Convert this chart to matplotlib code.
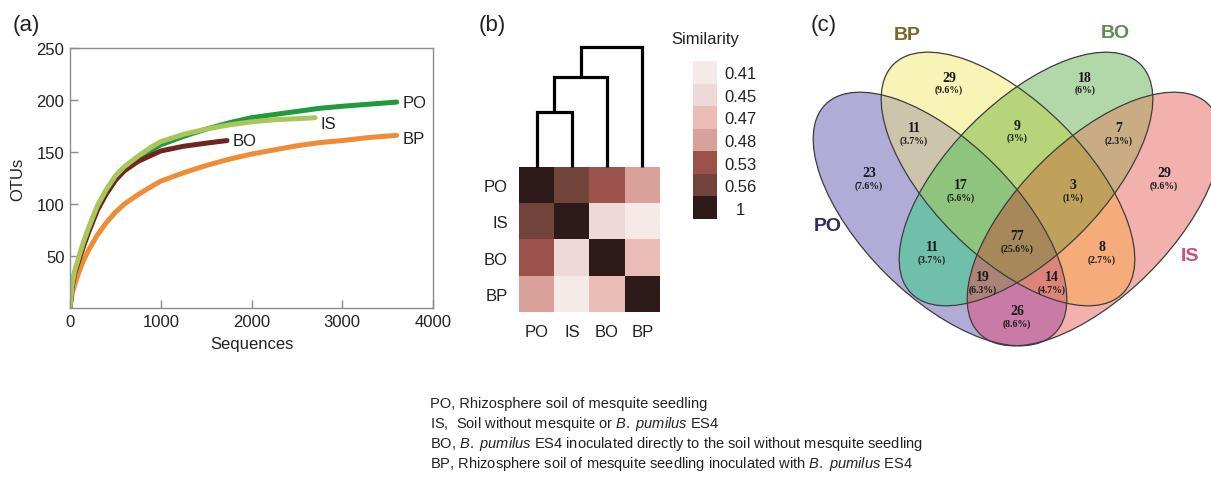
import matplotlib.pyplot as plt
import numpy as np
from matplotlib.colors import ListedColormap, to_rgba
from matplotlib.patches import Ellipse

plt.rcParams['font.family'] = ['Liberation Sans', 'DejaVu Sans']
plt.rcParams['mathtext.fontset'] = 'custom'
plt.rcParams['mathtext.rm'] = 'Liberation Sans'
plt.rcParams['mathtext.it'] = 'Liberation Sans:italic'

W, H = 1211, 481

# (a) rarefaction curves
po_x = [0, 25, 50, 100, 150, 200, 300, 400, 500, 600, 750, 900, 1000, 1250,
        1500, 1750, 2000, 2250, 2500, 2750, 3000, 3300, 3600]
po_y = [0, 22, 33, 47, 60, 72, 94, 110, 123, 133, 143, 152, 157, 165,
        172, 178, 183, 186, 189, 192, 194, 196, 198]
is_x = [0, 25, 50, 100, 150, 200, 300, 400, 500, 600, 750, 900, 1000, 1250,
        1500, 1750, 2000, 2250, 2500, 2700]
is_y = [0, 24, 35, 50, 64, 76, 98, 114, 127, 136, 146, 155, 160, 167,
        172, 176, 179, 181, 182, 183]
bo_x = [0, 25, 50, 100, 150, 200, 300, 400, 500, 600, 750, 900, 1000, 1250,
        1500, 1730]
bo_y = [0, 22, 33, 47, 60, 72, 94, 110, 123, 132, 141, 147, 151, 155.5,
        158.5, 161]
bp_x = [0, 25, 50, 100, 150, 200, 300, 400, 500, 600, 750, 900, 1000, 1250,
        1500, 1750, 2000, 2250, 2500, 2750, 3000, 3300, 3600]
bp_y = [0, 14, 22, 35, 46, 55, 70, 82, 92, 100, 109, 117, 122, 130,
        137, 143, 148, 152, 156, 159, 161, 164, 166]

# (b) similarity heatmap
samples = ['PO', 'IS', 'BO', 'BP']
similarity = [[1, 0.56, 0.53, 0.48],
              [0.56, 1, 0.45, 0.41],
              [0.53, 0.45, 1, 0.47],
              [0.48, 0.41, 0.47, 1]]
sim_levels = [0.41, 0.45, 0.47, 0.48, 0.53, 0.56, 1]
merge_heights = [0.46, 0.75, 1.0]   # PO+IS, +BO, +BP

# (c) venn diagram, membership = (PO, BP, BO, IS)
venn_sets = ['PO', 'BP', 'BO', 'IS']
venn_regions = [(1, 0, 0, 0), (0, 1, 0, 0), (0, 0, 1, 0), (0, 0, 0, 1),
                (1, 1, 0, 0), (0, 1, 1, 0), (0, 0, 1, 1), (1, 1, 1, 0),
                (0, 1, 1, 1), (1, 0, 1, 0), (1, 1, 1, 1), (0, 1, 0, 1),
                (1, 0, 1, 1), (1, 1, 0, 1), (1, 0, 0, 1)]
venn_counts = [23, 29, 18, 29, 11, 9, 7, 17, 3, 11, 77, 8, 19, 14, 26]
venn_pcts = ['7.6%', '9.6%', '6%', '9.6%', '3.7%', '3%', '2.3%', '5.6%',
             '1%', '3.7%', '25.6%', '2.7%', '6.3%', '4.7%', '8.6%']

captions = [
    'PO, Rhizosphere soil of mesquite seedling',
    r'IS,  Soil without mesquite or $\it{B.\ pumilus}$ ES4',
    r'BO, $\it{B.\ pumilus}$ ES4 inoculated directly to the soil without mesquite seedling',
    r'BP, Rhizosphere soil of mesquite seedling inoculated with $\it{B.\ pumilus}$ ES4',
]

fig = plt.figure(figsize=(W / 100, H / 100), dpi=100)


def px_axes(x0, y0, x1, y1):
    return fig.add_axes([x0 / W, 1 - y1 / H, (x1 - x0) / W, (y1 - y0) / H])


# ---------- (a)
ax = px_axes(70, 49, 433, 309)
curves = [('BP', bp_x, bp_y, '#f08c35', (4, -2)),
          ('PO', po_x, po_y, '#1f9a3c', (4, 0)),
          ('BO', bo_x, bo_y, '#6e2520', (4, 0)),
          ('IS', is_x, is_y, '#a9c65a', (4, -4))]
for name, xs, ys, col, off in curves:
    ax.plot(xs, ys, color=col, lw=3.6, solid_capstyle='round', solid_joinstyle='round')
    ax.annotate(name, (xs[-1], ys[-1]), xytext=off, textcoords='offset points',
                va='center', ha='left', fontsize=12, color='#222')
ax.set_xlim(0, 4000)
ax.set_ylim(0, 250)
ax.set_xticks([0, 1000, 2000, 3000, 4000])
ax.set_yticks([50, 100, 150, 200, 250])
ax.tick_params(direction='in', length=6, width=1, color='#8c8c8c',
               labelsize=12, labelcolor='#222', pad=4)
for s in ax.spines.values():
    s.set_color('#8c8c8c')
    s.set_linewidth(1)
ax.text(-0.143, 0.5, 'OTUs', rotation=90, ha='center', va='center',
        fontsize=12, color='#222', transform=ax.transAxes)
ax.text(0.5, -0.138, 'Sequences', ha='center', va='center',
        fontsize=12, color='#222', transform=ax.transAxes)

# ---------- (b)
sim_colors = ['#f6eae9', '#efd9d8', '#e9bcb6', '#d9a19a', '#9b524a', '#70433b', '#2e1a19']
cmap = ListedColormap(sim_colors)
idx = np.array([[sim_levels.index(v) for v in row] for row in similarity])

axh = px_axes(519, 168, 660, 313)
axh.imshow(idx, cmap=cmap, vmin=-0.5, vmax=len(sim_levels) - 0.5,
           aspect='auto', interpolation='nearest')
axh.set_xticks(range(4))
axh.set_xticklabels(samples)
axh.set_yticks(range(4))
axh.set_yticklabels(samples)
axh.tick_params(length=0, labelsize=12, labelcolor='#222')
axh.tick_params(axis='x', pad=9)
axh.tick_params(axis='y', pad=8)
for s in axh.spines.values():
    s.set_visible(False)

axd = px_axes(519, 45, 660, 168)
axd.set_xlim(-0.5, 3.5)
axd.set_ylim(0, 1.025)
axd.axis('off')
leaf = {n: i for i, n in enumerate(samples)}
lx, lh = leaf['PO'], 0
nodes = [('IS', merge_heights[0]), ('BO', merge_heights[1]), ('BP', merge_heights[2])]
for name, h in nodes:
    rx = leaf[name]
    axd.plot([lx, lx, rx, rx], [lh, h, h, 0], color='black', lw=2.3,
             solid_joinstyle='miter', solid_capstyle='butt', clip_on=False)
    lx, lh = (lx + rx) / 2, h

axc = px_axes(693, 62, 717, 220)
axc.imshow(np.arange(len(sim_levels))[:, None], cmap=cmap, aspect='auto',
           vmin=-0.5, vmax=len(sim_levels) - 0.5)
axc.set_xticks([])
axc.set_yticks(range(len(sim_levels)))
axc.set_yticklabels([f'{v:g}' for v in sim_levels])
axc.yaxis.tick_right()
axc.tick_params(length=0, labelsize=12, labelcolor='#222', pad=17)
for t in axc.get_yticklabels():
    t.set_ha('center')
for s in axc.spines.values():
    s.set_visible(False)
axc.set_title('Similarity', fontsize=12, color='#222', pad=13)

# ---------- (c)
axv = px_axes(790, 0, 1211, 481)
axv.set_xlim(790, 1211)
axv.set_ylim(481, 0)
axv.axis('off')

ell_a, ell_b = 162, 77
ell_geom = {'PO': ((940, 220), 45), 'BP': ((1008, 180), 45),
            'BO': ((1026, 180), -45), 'IS': ((1094, 220), -45)}
region_colors = {
    (1, 0, 0, 0): '#b1abd7', (0, 1, 0, 0): '#f8f4b6', (0, 0, 1, 0): '#b2d7a8',
    (0, 0, 0, 1): '#f3b1ad', (1, 1, 0, 0): '#cdc5ab', (0, 1, 1, 0): '#b6d47a',
    (0, 0, 1, 1): '#c9ab84', (1, 1, 1, 0): '#8ec47e', (0, 1, 1, 1): '#bfa15b',
    (1, 0, 1, 0): '#70bfab', (1, 1, 1, 1): '#a6885b', (0, 1, 0, 1): '#f5ab7a',
    (1, 0, 1, 1): '#ab8379', (1, 1, 0, 1): '#dc8479', (1, 0, 0, 1): '#c97aa6',
}
gx, gy = np.meshgrid(np.arange(790, 1211, 0.5) + 0.25, np.arange(0, 481, 0.5) + 0.25)
member = []
for name in venn_sets:
    (cx, cy), ang = ell_geom[name]
    t = np.deg2rad(ang)
    dx, dy = gx - cx, gy - cy
    u = dx * np.cos(t) + dy * np.sin(t)
    v = -dx * np.sin(t) + dy * np.cos(t)
    member.append((u / ell_a) ** 2 + (v / ell_b) ** 2 <= 1)
img = np.zeros(gx.shape + (4,))
for key, col in region_colors.items():
    mask = np.ones(gx.shape, bool)
    for m, k in zip(member, key):
        mask &= m if k else ~m
    img[mask] = to_rgba(col)
axv.imshow(img, extent=(790, 1211, 481, 0), interpolation='nearest', zorder=1)
for name in venn_sets:
    (cx, cy), ang = ell_geom[name]
    axv.add_patch(Ellipse((cx, cy), 2 * ell_a, 2 * ell_b, angle=ang, fill=False,
                          ec='#3d3d3d', lw=0.9, zorder=2))

label_pos = {
    (1, 0, 0, 0): (869, 174), (0, 1, 0, 0): (949, 78), (0, 0, 1, 0): (1085, 78),
    (0, 0, 0, 1): (1164, 174), (1, 1, 0, 0): (914, 129), (0, 1, 1, 0): (1017, 126),
    (0, 0, 1, 1): (1119, 129), (1, 1, 1, 0): (961, 186), (0, 1, 1, 1): (1073, 186),
    (1, 0, 1, 0): (932, 248), (1, 1, 1, 1): (1017, 237), (0, 1, 0, 1): (1102, 248),
    (1, 0, 1, 1): (983, 278), (1, 1, 0, 1): (1052, 278), (1, 0, 0, 1): (1017, 312),
}
serif = ['Liberation Serif', 'DejaVu Serif']
for key, n, p in zip(venn_regions, venn_counts, venn_pcts):
    x, y = label_pos[key]
    axv.text(x, y, str(n), ha='center', va='center', fontsize=10,
             fontweight='bold', family=serif, color='#1a1a1a', zorder=3)
    axv.text(x, y + 12, f'({p})', ha='center', va='center', fontsize=7,
             fontweight='bold', family=serif, color='#1a1a1a', zorder=3)

set_labels = {'BP': ((907, 36), '#7a6628'), 'BO': ((1115, 33), '#5b8c50'),
              'PO': ((828, 227), '#2b2b66'), 'IS': ((1190, 257), '#c8507a')}
for name, ((x, y), col) in set_labels.items():
    axv.text(x, y, name, ha='center', va='center', fontsize=14,
             fontweight='bold', color=col, zorder=3)

# ---------- panel letters and caption
axt = fig.add_axes([0, 0, 1, 1], zorder=5)
axt.set_xlim(0, W)
axt.set_ylim(H, 0)
axt.axis('off')
for x, s in [(26, '(a)'), (492, '(b)'), (824, '(c)')]:
    axt.text(x, 25, s, ha='center', va='center', fontsize=16, color='#222')
for i, line in enumerate(captions):
    axt.text(430, 404 + 20 * i, line, ha='left', va='center', fontsize=10.5, color='#222')

fig.savefig('out.png', dpi=100)
